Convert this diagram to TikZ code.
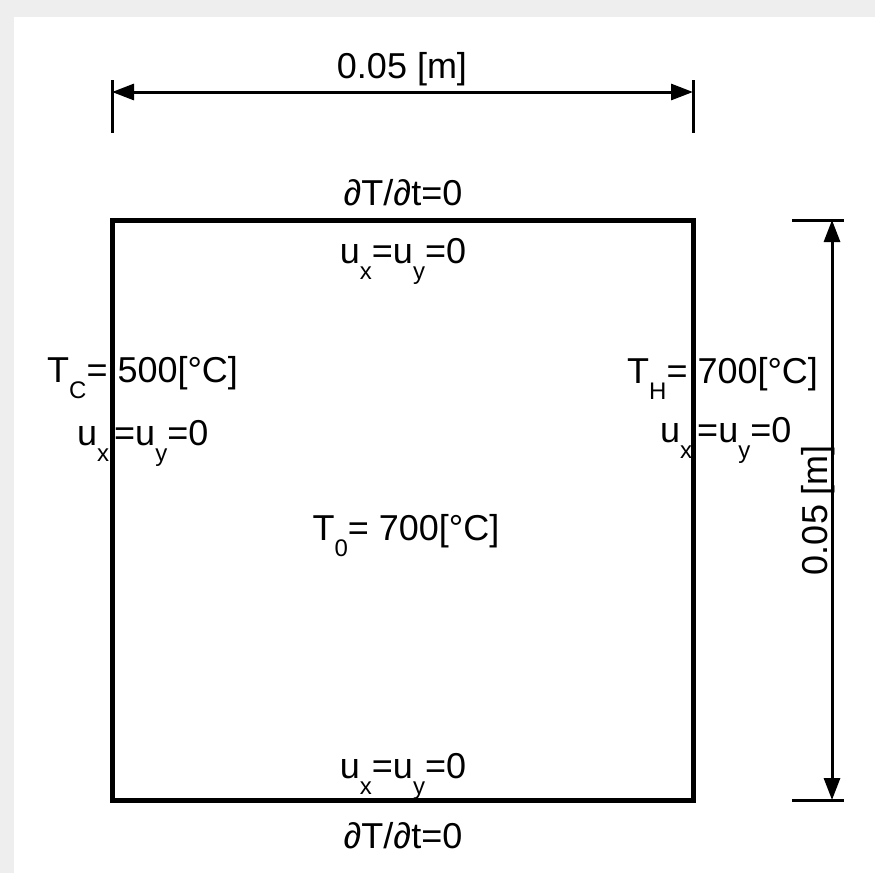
\documentclass[tikz,border=0pt]{standalone}
\usepackage{fontspec}
\setmainfont{Liberation Sans}
\usetikzlibrary{arrows.meta}
\definecolor{framegray}{HTML}{EEEEEE}
\newcommand{\lowsub}[1]{\raisebox{-0.45em}{\fontsize{24}{24}\selectfont #1}}
\tikzset{
  dimline/.style={line width=3pt, {Triangle[length=22pt,width=16pt]}-{Triangle[length=22pt,width=16pt]}},
  dimtick/.style={line width=3pt},
  bclabel/.style={inner sep=0pt, anchor=base, font=\fontsize{36}{42}\selectfont}
}
\begin{document}
\begin{tikzpicture}[x=1pt, y=-1pt]
    % page and frame
    \fill[framegray] (0,0) rectangle (875,873);
    \fill[white] (14,17) rectangle (875,873);
    \useasboundingbox (0,0) rectangle (875,873);

    % domain
    \coordinate (nw) at (112,220);
    \coordinate (se) at (693,800);
    \draw[line width=5pt, line join=miter] (nw) rectangle (se);

    % horizontal dimension
    \coordinate (htl) at (112,80);  \coordinate (hbl) at (112,133);
    \coordinate (htr) at (693,80);  \coordinate (hbr) at (693,133);
    \coordinate (hl) at (112,92);   \coordinate (hr) at (693,92);
    \draw[dimtick] (htl) -- (hbl);
    \draw[dimtick] (htr) -- (hbr);
    \draw[dimline] (hl) -- (hr);
    \node[bclabel] (width) at (402,78) {0.05 [m]};

    % vertical dimension
    \coordinate (vtl) at (792,220); \coordinate (vtr) at (844,220);
    \coordinate (vbl) at (792,800); \coordinate (vbr) at (844,800);
    \coordinate (vt) at (832,220);  \coordinate (vb) at (832,800);
    \draw[dimtick] (vtl) -- (vtr);
    \draw[dimtick] (vbl) -- (vbr);
    \draw[dimline] (vt) -- (vb);
    \node[bclabel, rotate=90] (height) at (827,510) {0.05 [m]};

    % boundary conditions
    \node[bclabel] (topT) at (403,205) {∂T/∂t=0};
    \node[bclabel] (topU) at (403,263) {u\lowsub{x}=u\lowsub{y}=0};
    \node[bclabel, anchor=base west] (leftT) at (47,382) {T\lowsub{C}= 500[°C]};
    \node[bclabel, anchor=base west] (leftU) at (77,445) {u\lowsub{x}\kern5pt=u\lowsub{y}=0};
    \node[bclabel, anchor=base west] (rightT) at (627,383) {T\lowsub{H}= 700[°C]};
    \node[bclabel, anchor=base west] (rightU) at (660,442) {u\lowsub{x}\kern5pt=u\lowsub{y}=0};
    \node[bclabel] (initT) at (406,540) {T\lowsub{0}= 700[°C]};
    \node[bclabel] (botU) at (403,778) {u\lowsub{x}=u\lowsub{y}=0};
    \node[bclabel] (botT) at (403,848) {∂T/∂t=0};
\end{tikzpicture}
\end{document}
